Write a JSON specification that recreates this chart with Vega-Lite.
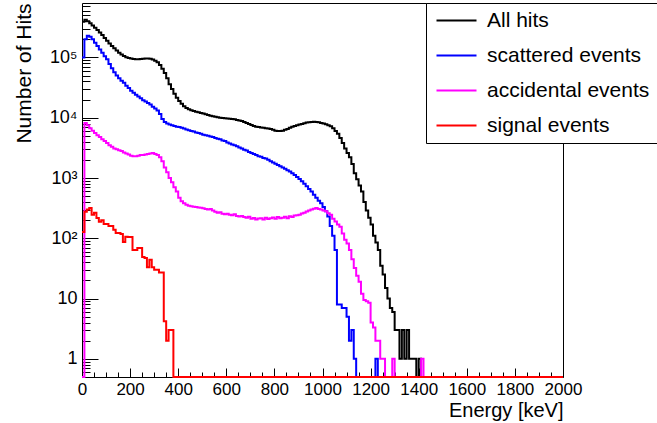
{
  "$schema": "https://vega.github.io/schema/vega-lite/v6.json",
  "width": 481,
  "height": 374,
  "autosize": "none",
  "padding": {"left": 82, "top": 3, "right": 94, "bottom": 46},
  "background": "#ffffff",
  "config": {
    "font": "Liberation Sans",
    "view": {"stroke": "#000000", "strokeWidth": 1},
    "axis": {"domain": false, "grid": false, "tickColor": "#000000", "tickWidth": 1, "labelColor": "#000000", "titleColor": "#000000", "labelFont": "Liberation Sans", "titleFont": "Liberation Sans", "titleFontWeight": "normal", "labelFlush": false, "labelOverlap": false}
  },
  "datasets": {
    "all": [
      {"E":0,"v":390000},{"E":10,"v":420000},{"E":20,"v":400000},{"E":30,"v":370000},{"E":40,"v":340000},{"E":50,"v":310000},{"E":60,"v":285000},{"E":70,"v":260000},{"E":80,"v":235000},{"E":90,"v":210000},
      {"E":100,"v":190000},{"E":110,"v":170000},{"E":120,"v":155000},{"E":130,"v":142000},{"E":140,"v":130000},{"E":150,"v":120000},{"E":160,"v":112000},{"E":170,"v":106000},{"E":180,"v":101000},{"E":190,"v":98000},
      {"E":200,"v":96000},{"E":210,"v":94000},{"E":220,"v":93000},{"E":230,"v":93000},{"E":240,"v":94000},{"E":250,"v":95000},{"E":260,"v":96000},{"E":270,"v":96000},{"E":280,"v":95000},{"E":290,"v":92000},
      {"E":300,"v":88000},{"E":310,"v":83000},{"E":320,"v":75000},{"E":330,"v":65000},{"E":340,"v":55000},{"E":350,"v":45000},{"E":360,"v":36000},{"E":370,"v":30000},{"E":380,"v":25000},{"E":390,"v":21500},
      {"E":400,"v":19000},{"E":410,"v":17000},{"E":420,"v":15500},{"E":430,"v":14500},{"E":440,"v":13800},{"E":450,"v":13300},{"E":460,"v":12900},{"E":470,"v":12600},{"E":480,"v":12300},{"E":490,"v":12000},
      {"E":500,"v":11700},{"E":510,"v":11400},{"E":520,"v":11100},{"E":530,"v":10800},{"E":540,"v":10600},{"E":550,"v":10400},{"E":560,"v":10200},{"E":570,"v":10000},{"E":580,"v":9900},{"E":590,"v":9800},
      {"E":600,"v":9700},{"E":610,"v":9600},{"E":620,"v":9500},{"E":630,"v":9400},{"E":640,"v":9200},{"E":650,"v":9000},{"E":660,"v":8800},{"E":670,"v":8500},{"E":680,"v":8200},{"E":690,"v":7900},
      {"E":700,"v":7600},{"E":710,"v":7300},{"E":720,"v":7100},{"E":730,"v":7000},{"E":740,"v":6900},{"E":750,"v":6800},{"E":760,"v":6700},{"E":770,"v":6600},{"E":780,"v":6500},{"E":790,"v":6300},
      {"E":800,"v":6100},{"E":810,"v":6000},{"E":820,"v":6000},{"E":830,"v":6100},{"E":840,"v":6300},{"E":850,"v":6500},{"E":860,"v":6800},{"E":870,"v":7100},{"E":880,"v":7300},{"E":890,"v":7500},
      {"E":900,"v":7700},{"E":910,"v":7900},{"E":920,"v":8100},{"E":930,"v":8300},{"E":940,"v":8400},{"E":950,"v":8500},{"E":960,"v":8600},{"E":970,"v":8500},{"E":980,"v":8400},{"E":990,"v":8200},
      {"E":1000,"v":8000},{"E":1010,"v":7800},{"E":1020,"v":7500},{"E":1030,"v":7200},{"E":1040,"v":6700},{"E":1050,"v":6000},{"E":1060,"v":5400},{"E":1070,"v":4600},{"E":1080,"v":3800},{"E":1090,"v":3100},
      {"E":1100,"v":2600},{"E":1110,"v":2200},{"E":1120,"v":1700},{"E":1130,"v":1200},{"E":1140,"v":950},{"E":1150,"v":750},{"E":1160,"v":600},{"E":1170,"v":400},{"E":1180,"v":290},{"E":1190,"v":220},
      {"E":1200,"v":170},{"E":1210,"v":110},{"E":1220,"v":85},{"E":1230,"v":64},{"E":1240,"v":35},{"E":1250,"v":25},{"E":1260,"v":15},{"E":1270,"v":10},{"E":1280,"v":7},{"E":1290,"v":6},
      {"E":1300,"v":3},{"E":1310,"v":3},{"E":1320,"v":1},{"E":1330,"v":3},{"E":1340,"v":1},{"E":1350,"v":3},{"E":1360,"v":1},{"E":1370,"v":1},{"E":1380,"v":1},{"E":1390,"v":0.5},
      {"E":1400,"v":1},{"E":1410,"v":0.5},{"E":2000,"v":0.5}
    ],
    "scattered": [
      {"E":0,"v":100000},{"E":10,"v":200000},{"E":20,"v":230000},{"E":30,"v":220000},{"E":40,"v":200000},{"E":50,"v":175000},{"E":60,"v":155000},{"E":70,"v":135000},{"E":80,"v":120000},{"E":90,"v":105000},
      {"E":100,"v":93000},{"E":110,"v":78000},{"E":120,"v":66000},{"E":130,"v":57000},{"E":140,"v":50000},{"E":150,"v":45000},{"E":160,"v":41000},{"E":170,"v":38000},{"E":180,"v":34000},{"E":190,"v":31000},
      {"E":200,"v":28000},{"E":210,"v":26000},{"E":220,"v":24000},{"E":230,"v":22500},{"E":240,"v":21000},{"E":250,"v":19500},{"E":260,"v":18500},{"E":270,"v":17500},{"E":280,"v":16500},{"E":290,"v":15200},
      {"E":300,"v":14200},{"E":310,"v":13200},{"E":320,"v":11500},{"E":330,"v":9500},{"E":340,"v":8500},{"E":350,"v":8000},{"E":360,"v":7700},{"E":370,"v":7500},{"E":380,"v":7300},{"E":390,"v":7100},
      {"E":400,"v":7000},{"E":410,"v":6800},{"E":420,"v":6600},{"E":430,"v":6400},{"E":440,"v":6200},{"E":450,"v":6000},{"E":460,"v":5900},{"E":470,"v":5700},{"E":480,"v":5600},{"E":490,"v":5400},
      {"E":500,"v":5200},{"E":510,"v":5100},{"E":520,"v":5000},{"E":530,"v":4900},{"E":540,"v":4800},{"E":550,"v":4600},{"E":560,"v":4500},{"E":570,"v":4400},{"E":580,"v":4200},{"E":590,"v":4100},
      {"E":600,"v":3900},{"E":610,"v":3750},{"E":620,"v":3600},{"E":630,"v":3500},{"E":640,"v":3350},{"E":650,"v":3200},{"E":660,"v":3100},{"E":670,"v":2950},{"E":680,"v":2850},{"E":690,"v":2700},
      {"E":700,"v":2600},{"E":710,"v":2500},{"E":720,"v":2400},{"E":730,"v":2300},{"E":740,"v":2250},{"E":750,"v":2150},{"E":760,"v":2100},{"E":770,"v":2000},{"E":780,"v":1900},{"E":790,"v":1800},
      {"E":800,"v":1720},{"E":810,"v":1650},{"E":820,"v":1570},{"E":830,"v":1500},{"E":840,"v":1420},{"E":850,"v":1350},{"E":860,"v":1280},{"E":870,"v":1200},{"E":880,"v":1120},{"E":890,"v":1040},
      {"E":900,"v":960},{"E":910,"v":880},{"E":920,"v":800},{"E":930,"v":730},{"E":940,"v":660},{"E":950,"v":600},{"E":960,"v":530},{"E":970,"v":470},{"E":980,"v":420},{"E":990,"v":380},
      {"E":1000,"v":330},{"E":1010,"v":280},{"E":1020,"v":230},{"E":1030,"v":160},{"E":1040,"v":110},{"E":1050,"v":64},{"E":1060,"v":8},{"E":1070,"v":8},{"E":1080,"v":7},{"E":1090,"v":7},
      {"E":1100,"v":5},{"E":1110,"v":2},{"E":1120,"v":3},{"E":1130,"v":1},{"E":1140,"v":0.5},{"E":1220,"v":1},{"E":1230,"v":0.5},{"E":2000,"v":0.5}
    ],
    "accidental": [
      {"E":0,"v":0.5},{"E":10,"v":8200},{"E":20,"v":7500},{"E":30,"v":6700},{"E":40,"v":6100},{"E":50,"v":5600},{"E":60,"v":5100},{"E":70,"v":4800},{"E":80,"v":4400},{"E":90,"v":4100},
      {"E":100,"v":3800},{"E":110,"v":3500},{"E":120,"v":3300},{"E":130,"v":3100},{"E":140,"v":3000},{"E":150,"v":2900},{"E":160,"v":2800},{"E":170,"v":2650},{"E":180,"v":2550},{"E":190,"v":2450},
      {"E":200,"v":2350},{"E":210,"v":2300},{"E":220,"v":2300},{"E":230,"v":2350},{"E":240,"v":2400},{"E":250,"v":2400},{"E":260,"v":2450},{"E":270,"v":2500},{"E":280,"v":2550},{"E":290,"v":2600},
      {"E":300,"v":2500},{"E":310,"v":2400},{"E":320,"v":2200},{"E":330,"v":1900},{"E":340,"v":1500},{"E":350,"v":1250},{"E":360,"v":1000},{"E":370,"v":850},{"E":380,"v":700},{"E":390,"v":600},
      {"E":400,"v":470},{"E":410,"v":410},{"E":420,"v":380},{"E":430,"v":360},{"E":440,"v":345},{"E":450,"v":340},{"E":460,"v":335},{"E":470,"v":330},{"E":480,"v":325},{"E":490,"v":320},
      {"E":500,"v":315},{"E":510,"v":305},{"E":520,"v":300},{"E":530,"v":305},{"E":540,"v":290},{"E":550,"v":275},{"E":560,"v":265},{"E":570,"v":270},{"E":580,"v":255},{"E":590,"v":250},
      {"E":600,"v":255},{"E":610,"v":245},{"E":620,"v":240},{"E":630,"v":250},{"E":640,"v":235},{"E":650,"v":230},{"E":660,"v":235},{"E":670,"v":225},{"E":680,"v":220},{"E":690,"v":228},
      {"E":700,"v":210},{"E":710,"v":218},{"E":720,"v":205},{"E":730,"v":212},{"E":740,"v":215},{"E":750,"v":205},{"E":760,"v":220},{"E":770,"v":208},{"E":780,"v":215},{"E":790,"v":222},
      {"E":800,"v":210},{"E":810,"v":225},{"E":820,"v":215},{"E":830,"v":220},{"E":840,"v":228},{"E":850,"v":215},{"E":860,"v":232},{"E":870,"v":225},{"E":880,"v":238},{"E":890,"v":242},
      {"E":900,"v":245},{"E":910,"v":258},{"E":920,"v":265},{"E":930,"v":278},{"E":940,"v":290},{"E":950,"v":300},{"E":960,"v":310},{"E":970,"v":318},{"E":980,"v":305},{"E":990,"v":300},
      {"E":1000,"v":290},{"E":1010,"v":280},{"E":1020,"v":260},{"E":1030,"v":245},{"E":1040,"v":210},{"E":1050,"v":190},{"E":1060,"v":170},{"E":1070,"v":155},{"E":1080,"v":120},{"E":1090,"v":95},
      {"E":1100,"v":82},{"E":1110,"v":64},{"E":1120,"v":45},{"E":1130,"v":32},{"E":1140,"v":24},{"E":1150,"v":19},{"E":1160,"v":12},{"E":1170,"v":9.5},{"E":1180,"v":9},{"E":1190,"v":8.5},
      {"E":1200,"v":4},{"E":1210,"v":3.3},{"E":1220,"v":2},{"E":1230,"v":2},{"E":1240,"v":1},{"E":1250,"v":1},{"E":1260,"v":0.5},{"E":1290,"v":1},{"E":1300,"v":0.5},{"E":1410,"v":1},
      {"E":1420,"v":0.5},{"E":2000,"v":0.5}
    ],
    "signal": [
      {"E":0,"v":127},{"E":10,"v":275},{"E":20,"v":300},{"E":30,"v":317},{"E":40,"v":245},{"E":50,"v":265},{"E":60,"v":218},{"E":70,"v":188},{"E":80,"v":200},{"E":90,"v":173},
      {"E":100,"v":173},{"E":110,"v":160},{"E":120,"v":160},{"E":130,"v":138},{"E":140,"v":122},{"E":150,"v":122},{"E":160,"v":118},{"E":170,"v":87},{"E":180,"v":106},{"E":190,"v":105},
      {"E":200,"v":105},{"E":210,"v":64},{"E":220,"v":64},{"E":230,"v":69},{"E":240,"v":69},{"E":250,"v":49},{"E":260,"v":47},{"E":270,"v":33},{"E":280,"v":44},{"E":290,"v":33},
      {"E":300,"v":30},{"E":310,"v":30},{"E":320,"v":27},{"E":330,"v":27},{"E":340,"v":4.2},{"E":350,"v":2},{"E":360,"v":3},{"E":370,"v":3},{"E":380,"v":0.5},{"E":2000,"v":0.5}
    ]
  },
  "layer": [
    {
      "data": {"name": "all"},
      "mark": {"type": "line", "interpolate": "step-after", "strokeWidth": 2},
      "encoding": {
        "x": {"field": "E", "type": "quantitative", "scale": {"domain": [0, 2000], "nice": false, "zero": false},
          "axis": {"orient": "bottom", "values": [0,200,400,600,800,1000,1200,1400,1600,1800,2000], "format": "d", "tickSize": -9, "labelFontSize": 17, "labelPadding": 26, "labelBaseline": "alphabetic",
            "title": "Energy [keV]", "titleFontSize": 20, "titleX": 481, "titleY": 39, "titleAlign": "right", "titleBaseline": "alphabetic", "titleAnchor": "end"}},
        "y": {"field": "v", "type": "quantitative", "scale": {"type": "log", "domain": [0.5, 800000], "nice": false},
          "axis": {"orient": "left", "values": [1,10,100,1000,10000,100000], "tickSize": -16, "labelFontSize": 18, "labelPadding": 21, "labelAlign": "right", "labelBaseline": "middle",
            "labelExpr": "datum.value < 5 ? '1' : datum.value < 50 ? '10' : datum.value < 500 ? '10²' : datum.value < 5000 ? '10³' : datum.value < 50000 ? '10⁴' : '10⁵'",
            "title": "Number of Hits", "titleFontSize": 21, "titleX": -52, "titleY": 0, "titleAngle": 270, "titleAlign": "right", "titleBaseline": "alphabetic"}},
        "color": {"datum": "All hits", "type": "nominal",
          "scale": {"domain": ["All hits", "scattered events", "accidental events", "signal events"], "range": ["#000000", "#0000ff", "#ff00ff", "#ff0000"]},
          "legend": {"orient": "none", "legendX": 344, "legendY": 0, "title": null, "symbolType": "M-4,0H4", "symbolSize": 100, "symbolStrokeWidth": 2,
            "labelFontSize": 21, "labelFont": "Liberation Sans", "labelColor": "#000000", "labelLimit": 0, "labelOffset": 20, "padding": 7, "rowPadding": 13, "symbolOffset": 13,
            "fillColor": "#ffffff", "strokeColor": "#000000", "cornerRadius": 0}}
      }
    },
    {
      "data": {"name": "scattered"},
      "mark": {"type": "line", "interpolate": "step-after", "strokeWidth": 2},
      "encoding": {
        "x": {"field": "E", "type": "quantitative",
          "axis": {"orient": "bottom", "values": [50,100,150,250,300,350,450,500,550,650,700,750,850,900,950,1050,1100,1150,1250,1300,1350,1450,1500,1550,1650,1700,1750,1850,1900,1950], "tickSize": -5, "labels": false, "title": null}},
        "y": {"field": "v", "type": "quantitative",
          "axis": {"orient": "left", "values": [0.6,0.7,0.8,0.9,2,3,4,5,6,7,8,9,20,30,40,50,60,70,80,90,200,300,400,500,600,700,800,900,2000,3000,4000,5000,6000,7000,8000,9000,20000,30000,40000,50000,60000,70000,80000,90000,200000,300000,400000,500000,600000,700000], "tickSize": -8, "labels": false, "title": null}},
        "color": {"datum": "scattered events", "type": "nominal"}
      }
    },
    {
      "data": {"name": "accidental"},
      "mark": {"type": "line", "interpolate": "step-after", "strokeWidth": 2},
      "encoding": {
        "x": {"field": "E", "type": "quantitative", "axis": null},
        "y": {"field": "v", "type": "quantitative", "axis": null},
        "color": {"datum": "accidental events", "type": "nominal"}
      }
    },
    {
      "data": {"name": "signal"},
      "mark": {"type": "line", "interpolate": "step-after", "strokeWidth": 2},
      "encoding": {
        "x": {"field": "E", "type": "quantitative", "axis": null},
        "y": {"field": "v", "type": "quantitative", "axis": null},
        "color": {"datum": "signal events", "type": "nominal"}
      }
    }
  ],
  "resolve": {"axis": {"x": "independent", "y": "independent"}}
}
